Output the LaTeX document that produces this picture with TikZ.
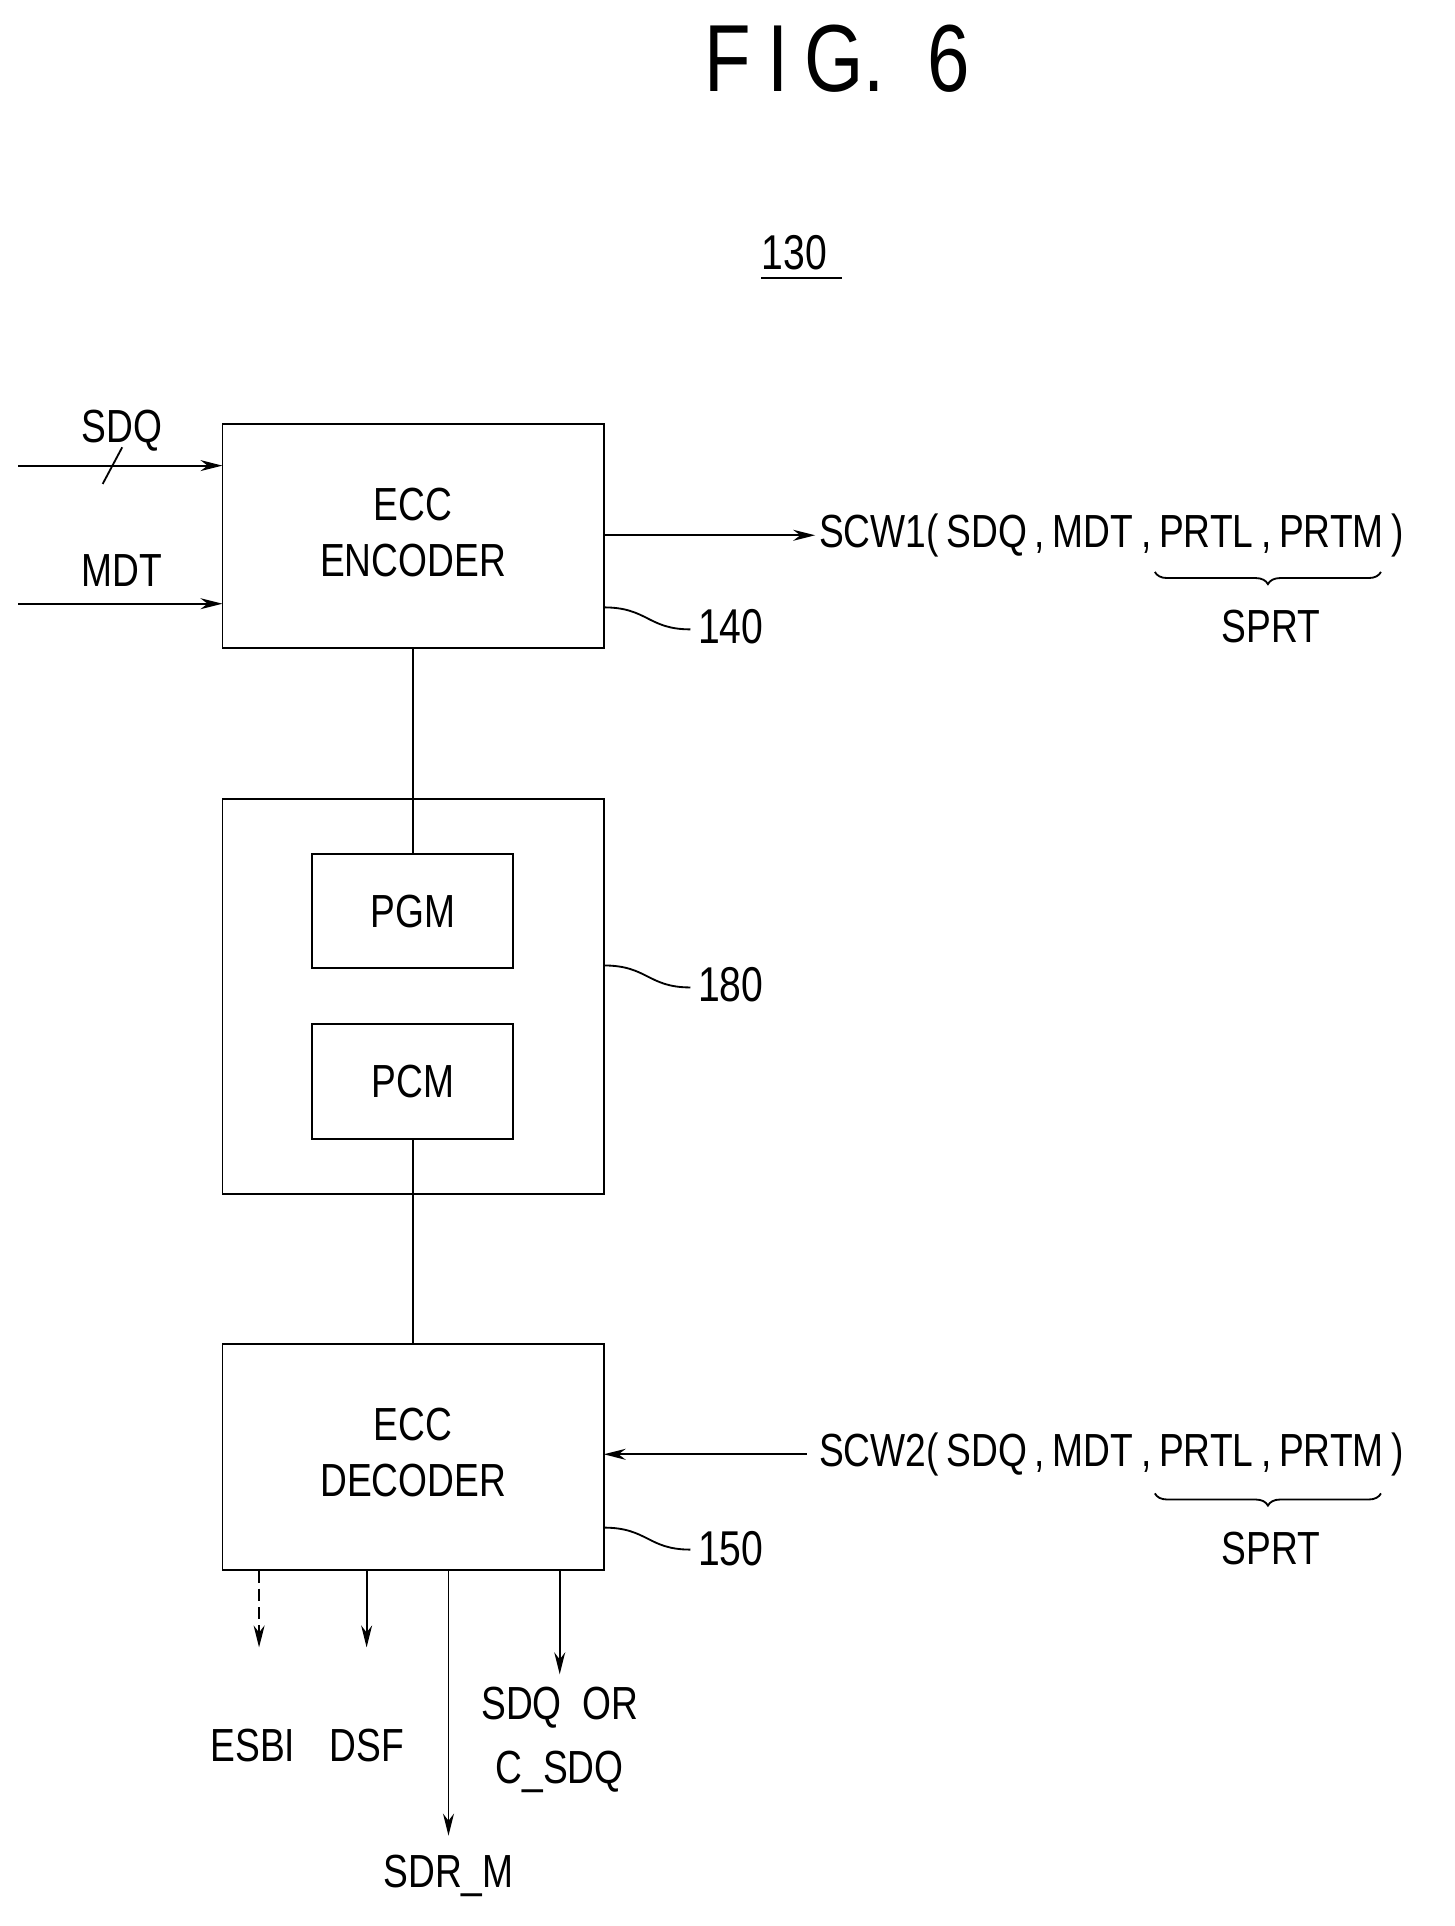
\documentclass[tikz,border=0pt]{standalone}
\usepackage{fontspec}
\setmainfont[FakeStretch=0.8]{Liberation Sans}
\usetikzlibrary{arrows.meta,decorations.pathreplacing}
\begin{document}
\begin{tikzpicture}[x=1pt,y=-1pt,
  box/.style={draw,line width=1.5pt},
  ln/.style={line width=1.5pt},
  arr/.style={ln,-{Stealth[length=18pt,width=9pt]}},
  txt/.style={font=\fontsize{38}{44}\selectfont,inner sep=0pt},
  lab/.style={font=\fontsize{40}{44}\selectfont,inner sep=0pt}]
\useasboundingbox (0,0) rectangle (1190,1576);
\node[inner sep=0pt,font=\fontsize{78}{80}\selectfont] (fig) at (685,48) {F\,I\,G.\ \ 6};
\node[lab] (n130) at (650,207) {130};
\draw[ln] (n130.south west)++(0,6) -- ++(66,0);
% encoder
\draw[box] (182,347) rectangle (494,530);
\node[txt] (enc) at (338,440) {\begin{tabular}{@{}c@{}}ECC\\[2pt]ENCODER\end{tabular}};
\coordinate (sdqs) at (15,381); \coordinate (sdqe) at (182,381);
\draw[arr] (sdqs) -- (sdqe);
\draw[ln] (84,396) -- (100,366);
\node[txt] (sdq) at (100,352) {SDQ};
\coordinate (mdts) at (15,494); \coordinate (mdte) at (182,494);
\draw[arr] (mdts) -- (mdte);
\node[txt] (mdt) at (100,467) {MDT};
\coordinate (eo) at (494,438); \coordinate (eoe) at (667,438);
\draw[arr] (eo) -- (eoe);
\node[txt,anchor=west] (scw1) at (670,438) {SCW1(\,SDQ\,,\,MDT\,,\,PRTL\,,\,PRTM\,)};
\draw[ln,decorate,decoration={brace,mirror,amplitude=10pt}] (945,468) -- (1130,468);
\node[txt] (sprt1) at (1040,513) {SPRT};
\draw[ln] (494,497) .. controls (530,497) and (530,515) .. (565,515);
\node[lab] (n140) at (598,513) {140};
% 180
\draw[box] (182,654) rectangle (494,977);
\draw[box] (255,699) rectangle (420,792);
\node[txt] (pgm) at (338,746) {PGM};
\draw[box] (255,838) rectangle (420,932);
\node[txt] (pcm) at (338,885) {PCM};
\draw[ln] (338,530) -- (338,699);
\draw[ln] (338,932) -- (338,1100);
\draw[ln] (494,790) .. controls (530,790) and (530,808) .. (565,808);
\node[lab] (n180) at (598,806) {180};
% decoder
\draw[box] (182,1100) rectangle (494,1285);
\node[txt] (dec) at (338,1193) {\begin{tabular}{@{}c@{}}ECC\\[2pt]DECODER\end{tabular}};
\coordinate (di) at (660,1190); \coordinate (die) at (494,1190);
\draw[arr] (di) -- (die);
\node[txt,anchor=west] (scw2) at (670,1190) {SCW2(\,SDQ\,,\,MDT\,,\,PRTL\,,\,PRTM\,)};
\draw[ln,decorate,decoration={brace,mirror,amplitude=10pt}] (945,1222) -- (1130,1222);
\node[txt] (sprt2) at (1040,1267) {SPRT};
\draw[ln] (494,1250) .. controls (530,1250) and (530,1268) .. (565,1268);
\node[lab] (n150) at (598,1267) {150};
\draw[arr,dash pattern=on 10pt off 5pt] (212,1285) -- (212,1348);
\node[txt] (esbi) at (207,1428) {ESBI};
\draw[arr] (300,1285) -- (300,1348);
\node[txt] (dsf) at (300,1428) {DSF};
\draw[arr] (367,1285) -- (367,1502);
\node[txt] (sdrm) at (367,1535) {SDR\_M};
\draw[arr] (458,1285) -- (458,1370);
\node[txt] (sdqor) at (458,1397) {SDQ\ \ OR};
\node[txt] (csdq) at (458,1450) {C\_SDQ};
\end{tikzpicture}
\end{document}
